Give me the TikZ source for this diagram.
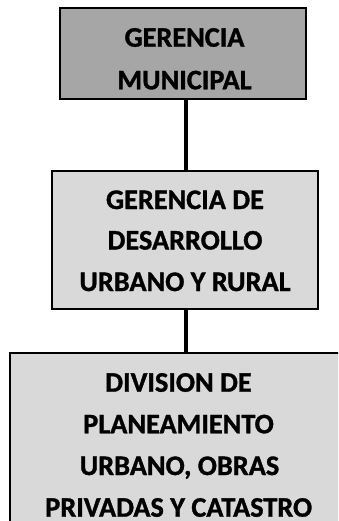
\documentclass[tikz,border=0pt]{standalone}
\usepackage{fontspec}
\setmainfont{Carlito}[BoldFeatures={FakeBold=1.2}]
\begin{document}
\begin{tikzpicture}[x=1pt,y=-1pt,
  box/.style={draw=black,line width=2pt,rectangle,inner sep=0pt},
  dark/.style={fill={rgb,255:red,166;green,166;blue,166}},
  light/.style={fill={rgb,255:red,217;green,217;blue,217}},
  txt/.style={anchor=base,inner sep=0pt,font=\bfseries\fontsize{28.3}{34}\selectfont},
  link/.style={draw=black,line width=4pt}]
\useasboundingbox (0,0) rectangle (338,521);
\begin{scope}
\clip (0,0) rectangle (338,521);
\node[box,dark,minimum width=246pt,minimum height=91pt] (gm) at (183,53.5) {};
\node[box,light,minimum width=266pt,minimum height=138pt] (gdur) at (185.3,240) {};
\node[box,light,minimum width=338pt,minimum height=208pt] (dpu) at (179,457) {};
\coordinate (c1) at (186,0);
\draw[link] (gm.south -| c1) -- (gdur.north -| c1);
\draw[link] (gdur.south -| c1) -- (dpu.north -| c1);
\node[txt] (gm1) at (184.5,46.7) {GERENCIA};
\node[txt] (gm2) at (184.5,89.3) {MUNICIPAL};
\node[txt] (gd1) at (185,209) {GERENCIA DE};
\node[txt] (gd2) at (185,249.5) {DESARROLLO};
\node[txt] (gd3) at (185,291) {URBANO Y RURAL};
\node[txt] (dp1) at (178.5,391.7) {DIVISION DE};
\node[txt] (dp2) at (178.5,433.3) {PLANEAMIENTO};
\node[txt] (dp3) at (179.5,475) {URBANO, OBRAS};
\node[txt] (dp4) at (178.7,516.7) {PRIVADAS Y CATASTRO};
\end{scope}
\end{tikzpicture}
\end{document}
